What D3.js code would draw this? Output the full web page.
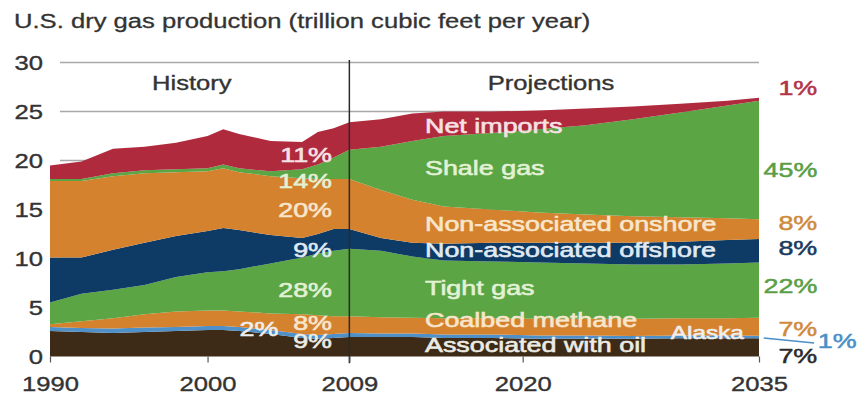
<!DOCTYPE html>
<html>
<head>
<meta charset="utf-8">
<script src="https://cdn.jsdelivr.net/npm/d3@7"></script>
<style>
  html, body { margin: 0; padding: 0; background: #fff; }
  svg { display: block; font-family: "Liberation Sans", Arial, sans-serif; }
</style>
</head>
<body>
<svg id="chart" width="862" height="396"></svg>
<script>
// ---------------- DATA ----------------
const years = [1990,1992,1994,1996,1998,2000,2001,2002,2004,2006,2007,2008,2009,2011,2013,2015,2018,2021,2024,2027,2030,2033,2035];
// layer thicknesses, trillion cubic feet per year (bottom to top)
const associatedWithOil = [2.6,2.5,2.4,2.5,2.6,2.7,2.7,2.6,2.3,1.9,1.8,1.9,2.0,2.0,2.0,1.9,1.9,1.8,1.8,1.8,1.85,1.85,1.85];
const alaska            = [0.4,0.4,0.45,0.45,0.4,0.4,0.4,0.4,0.4,0.4,0.4,0.4,0.4,0.35,0.35,0.35,0.35,0.35,0.35,0.3,0.3,0.3,0.27];
const coalbedMethane    = [0.3,0.7,1.05,1.35,1.6,1.6,1.6,1.6,1.7,2.0,2.0,1.8,1.7,1.65,1.6,1.65,1.65,1.7,1.7,1.75,1.75,1.75,1.83];
const tightGas          = [2.2,2.8,2.9,3.0,3.5,3.9,4.0,4.3,5.1,5.8,6.3,6.7,6.9,6.8,6.25,5.9,5.8,5.75,5.65,5.55,5.5,5.6,5.65];
const offshore          = [4.6,3.7,4.1,4.3,4.2,4.2,4.4,4.0,2.9,2.0,2.0,2.2,2.0,1.3,1.4,1.7,1.9,2.0,2.1,2.2,2.3,2.4,2.4];
const onshore           = [7.8,7.8,7.5,7.1,6.5,6.1,6.1,5.9,6.0,6.1,5.6,5.1,5.1,4.9,4.4,3.8,3.4,3.1,2.9,2.7,2.5,2.2,2.0];
const shaleGas          = [0.2,0.2,0.3,0.3,0.3,0.3,0.4,0.4,0.5,0.9,1.5,2.2,3.0,4.4,6.0,7.2,7.8,8.5,9.1,9.9,10.7,11.5,12.1];
const netImports        = [1.4,1.8,2.5,2.4,2.7,3.3,3.6,3.5,3.1,2.8,3.3,3.0,2.8,2.8,2.8,2.5,2.2,1.9,1.7,1.3,0.9,0.5,0.3];

const seriesKeys = ["assoc","alaska","coalbed","tight","offshore","onshore","shale","imports"];
const seriesNames = ["Associated with oil","Alaska","Coalbed methane","Tight gas","Non-associated offshore","Non-associated onshore","Shale gas","Net imports"];
const share2009 = ["9%","2%","8%","28%","9%","20%","14%","11%"];
const share2035 = ["7%","1%","7%","22%","8%","8%","45%","1%"];

const yTicks = [0,5,10,15,20,25,30];
const xTicks = [1990,2000,2009,2020,2035];
const title = "U.S. dry gas production (trillion cubic feet per year)";
const periodLabels = ["History","Projections"];

// ---------------- STYLE ----------------
const colors = {
  assoc:"#3d2b17", alaska:"#4f90c9", coalbed:"#d5822e", tight:"#5ba545",
  offshore:"#0e3b66", onshore:"#d5822e", shale:"#5ba545", imports:"#b02a3e"
};
const innerText = {
  assoc:"#ecebe4", alaska:"#eeeeee", coalbed:"#f8e6cc", tight:"#e3f1d5",
  offshore:"#e0eaf3", onshore:"#f8e6cc", shale:"#e3f1d5", imports:"#f7e1e4"
};
const rightText = {
  assoc:"#2b2b2b", alaska:"#4a8fc8", coalbed:"#d08a3c", tight:"#5a9e45",
  offshore:"#1a3a5e", onshore:"#d08a3c", shale:"#5a9e45", imports:"#b23248"
};
const STRETCH = 1.28;

// ---------------- BUILD ----------------
const table = years.map((yr, i) => ({
  year: yr,
  assoc: associatedWithOil[i], alaska: alaska[i], coalbed: coalbedMethane[i],
  tight: tightGas[i], offshore: offshore[i], onshore: onshore[i],
  shale: shaleGas[i], imports: netImports[i]
}));

const svg = d3.select("#chart");
const x = d3.scaleLinear().domain([1990, 2035]).range([50, 759]);
const y = d3.scaleLinear().domain([0, 30]).range([356.5, 62.5]);

function stretch(sel, weight) {
  sel.each(function() {
    const t = d3.select(this);
    const w = this.getComputedTextLength();
    t.attr("textLength", w * STRETCH).attr("lengthAdjust", "spacingAndGlyphs")
     .attr("stroke", t.attr("fill")).attr("stroke-width", weight == null ? 0.45 : weight)
     .attr("paint-order", "stroke");
  });
  return sel;
}

// gridlines
svg.append("g").selectAll("line").data(yTicks.filter(d => d > 0)).join("line")
  .attr("x1", 60).attr("x2", x(2035))
  .attr("y1", d => y(d)).attr("y2", d => y(d))
  .attr("stroke", "#a8a8a8").attr("stroke-width", 1.6);

// stacked areas
const stack = d3.stack().keys(seriesKeys);
const layers = stack(table);
const area = d3.area()
  .x(d => x(d.data.year))
  .y0(d => y(d[0]))
  .y1(d => y(d[1]));

svg.append("g").selectAll("path").data(layers).join("path")
  .attr("d", area)
  .attr("fill", d => colors[d.key]);

// 2009 divider
svg.append("line")
  .attr("x1", x(2009)).attr("x2", x(2009))
  .attr("y1", y(30.25)).attr("y2", y(-0.7))
  .attr("stroke", "#2a2a2a").attr("stroke-width", 1.5);

// y axis labels
svg.append("g").selectAll("text").data(yTicks).join("text")
  .attr("x", 43).attr("y", d => y(d)).attr("dy", "0.36em")
  .attr("text-anchor", "end").attr("font-size", 20).attr("fill", "#333")
  .text(d => d)
  .call(stretch, 0.35);

// x axis ticks + labels
const xAxis = svg.append("g").attr("transform", `translate(0,${y(0)})`)
  .call(d3.axisBottom(x).tickValues(xTicks).tickFormat(d3.format("d")).tickSize(6));
xAxis.select(".domain").remove();
xAxis.selectAll(".tick line").attr("stroke", "#555").attr("stroke-width", 1.2);
xAxis.selectAll(".tick text")
  .attr("font-size", 20).attr("fill", "#333").attr("y", 0).attr("dy", "1.7em")
  .attr("font-family", "Liberation Sans, Arial, sans-serif")
  .call(stretch, 0.35);

// title
svg.append("text").attr("x", 14).attr("y", 28)
  .attr("font-size", 20).attr("fill", "#333").text(title).call(stretch, 0.3);

// period labels
const periodPos = [{year: 1999.0, v: 27.2}, {year: 2021.8, v: 27.2}];
svg.append("g").selectAll("text").data(periodLabels).join("text")
  .attr("x", (d, i) => x(periodPos[i].year)).attr("y", (d, i) => y(periodPos[i].v))
  .attr("text-anchor", "middle").attr("font-size", 20).attr("fill", "#333")
  .text(d => d).call(stretch, 0.35);

// in-area series names (anchor: year, value at baseline)
const namePos = {
  imports:{year:2013.8, v:22.8}, shale:{year:2013.8, v:18.5},
  onshore:{year:2013.8, v:12.8}, offshore:{year:2013.8, v:10.15},
  tight:{year:2013.8, v:6.28}, coalbed:{year:2013.8, v:3.01},
  assoc:{year:2013.8, v:0.46}, alaska:{year:2029.4, v:1.75}
};
svg.append("g").selectAll("text").data(seriesKeys).join("text")
  .attr("x", k => x(namePos[k].year)).attr("y", k => y(namePos[k].v))
  .attr("font-size", k => k === "alaska" ? 19 : 21)
  .attr("fill", k => innerText[k])
  .text(k => seriesNames[seriesKeys.indexOf(k)])
  .call(stretch, 0.6);

// 2009 shares
const pos2009 = {
  imports:{year:2007.9, v:19.85}, shale:{year:2007.9, v:17.19},
  onshore:{year:2007.9, v:14.23}, offshore:{year:2007.9, v:10.15},
  tight:{year:2007.9, v:6.07}, coalbed:{year:2007.9, v:2.75},
  alaska:{year:2004.5, v:2.09}, assoc:{year:2007.9, v:0.9}
};
svg.append("g").selectAll("text").data(seriesKeys).join("text")
  .attr("x", k => x(pos2009[k].year)).attr("y", k => y(pos2009[k].v))
  .attr("text-anchor", "end").attr("font-size", 21)
  .attr("fill", k => innerText[k])
  .text(k => share2009[seriesKeys.indexOf(k)])
  .call(stretch, 0.6);

// 2035 shares (right side)
const pos2035 = {
  imports:{year:2038.7, v:26.68}, shale:{year:2038.7, v:18.32},
  onshore:{year:2038.7, v:12.91}, offshore:{year:2038.7, v:10.36},
  tight:{year:2038.7, v:6.48}, coalbed:{year:2038.7, v:2.09},
  alaska:{year:2041.2, v:0.87}, assoc:{year:2038.7, v:-0.66}
};
svg.append("g").selectAll("text").data(seriesKeys).join("text")
  .attr("x", k => x(pos2035[k].year)).attr("y", k => y(pos2035[k].v))
  .attr("text-anchor", "end").attr("font-size", 21)
  .attr("fill", k => rightText[k])
  .text(k => share2035[seriesKeys.indexOf(k)])
  .call(stretch, 0.5);

// Alaska leader line
svg.append("line")
  .attr("x1", x(2035.3)).attr("y1", y(1.9))
  .attr("x2", x(2038.5)).attr("y2", y(1.38))
  .attr("stroke", rightText.alaska).attr("stroke-width", 1.5);
</script>
</body>
</html>
